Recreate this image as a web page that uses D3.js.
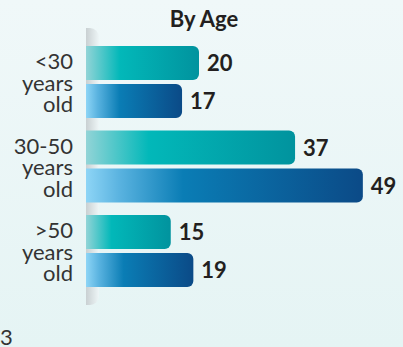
<!DOCTYPE html>
<html><head><meta charset="utf-8">
<script src="https://cdn.jsdelivr.net/npm/d3@7"></script>
<style>html,body{margin:0;padding:0;overflow:hidden;}svg{display:block;}</style>
</head><body>
<script>
const title = "By Age";
const categories = ["<30 years old", "30-50 years old", ">50 years old"];
const categoryLines = [["<30","years","old"],["30-50","years","old"],[">50","years","old"]];
const seriesNames = ["A", "B"];
const seriesA = [20, 37, 15];
const seriesB = [17, 49, 19];
const footnote = "3";

const W = 403, H = 347;
const svg = d3.select("body").append("svg").attr("width", W).attr("height", H);
const defs = svg.append("defs");

const bg = defs.append("linearGradient").attr("id","bg").attr("x1",0).attr("y1",0).attr("x2",0).attr("y2",1);
bg.append("stop").attr("offset","0%").attr("stop-color","#f0f8f9");
bg.append("stop").attr("offset","100%").attr("stop-color","#e5f4f4");
svg.append("rect").attr("width",W).attr("height",H).attr("fill","url(#bg)");

function grad(id, stops){
  const g = defs.append("linearGradient").attr("id",id).attr("x1",0).attr("y1",0).attr("x2",1).attr("y2",0);
  stops.forEach(s=>g.append("stop").attr("offset",s[0]).attr("stop-color",s[1]));
}
grad("gA", [["0%","#92d4d7"],["30%","#02b8b9"],["100%","#01939e"]]);
grad("gB", [["0%","#8ed5f6"],["12%","#5ab3e0"],["35%","#0a7db5"],["100%","#0b4a87"]]);
grad("gAxis", [["0%","#c9d0d2"],["100%","#eef6f7"]]);

const x = d3.scaleLinear().domain([0, 50]).range([86, 368.5]);
const y0 = d3.scaleBand().domain(categories).range([39.75, 293.25]).paddingInner(12.5/84.5).paddingOuter(6.25/84.5);
const y1 = d3.scaleBand().domain(seriesNames).range([0, y0.bandwidth()]).paddingInner(2 - y0.bandwidth()/38);

// axis strip
const ax0 = x(0);
svg.append("path")
  .attr("d", `M${ax0},28 h4 a9,9 0 0 1 9,9 v259 a9,9 0 0 1 -9,9 h-4 z`)
  .attr("fill","url(#gAxis)");

svg.append("text").attr("x", 204).attr("y", 27).attr("text-anchor","middle")
  .attr("font-family","Lato").attr("font-weight",700).attr("font-size",22).attr("fill","#231f20")
  .text(title);

function roundRight(x0, y, w, h, r){
  r = Math.min(r, w, h/2);
  return `M${x0},${y} h${w-r} a${r},${r} 0 0 1 ${r},${r} v${h-2*r} a${r},${r} 0 0 1 ${-r},${r} h${-(w-r)} z`;
}

const rows = [];
categories.forEach((c,i)=>{
  rows.push({cat:c, s:"A", v:seriesA[i]});
  rows.push({cat:c, s:"B", v:seriesB[i]});
});

svg.selectAll("path.bar").data(rows).enter().append("path").attr("class","bar")
  .attr("d", d => roundRight(x(0), y0(d.cat)+y1(d.s), x(d.v)-x(0), y1.bandwidth(), 6))
  .attr("fill", d => d.s==="A" ? "url(#gA)" : "url(#gB)");

svg.selectAll("text.val").data(rows).enter().append("text").attr("class","val")
  .attr("x", d => x(d.v) + 8)
  .attr("y", d => y0(d.cat)+y1(d.s)+y1.bandwidth()/2 + 8)
  .attr("font-family","Lato").attr("font-weight",700).attr("font-size",22).attr("fill","#231f20")
  .text(d => d.v);

categories.forEach((c,i)=>{
  const cy = y0(c) + y0.bandwidth()/2;
  const t = svg.append("text").attr("text-anchor","end")
    .attr("font-family","Lato").attr("font-weight",400).attr("font-size",22).attr("fill","#333333");
  categoryLines[i].forEach((ln,j)=>{
    t.append("tspan").attr("x",73).attr("y", cy - 13 + j*21.5).text(ln);
  });
});

svg.append("text").attr("x",0).attr("y",345)
  .attr("font-family","Lato").attr("font-weight",400).attr("font-size",22).attr("fill","#333333")
  .text(footnote);
</script>
</body></html>
